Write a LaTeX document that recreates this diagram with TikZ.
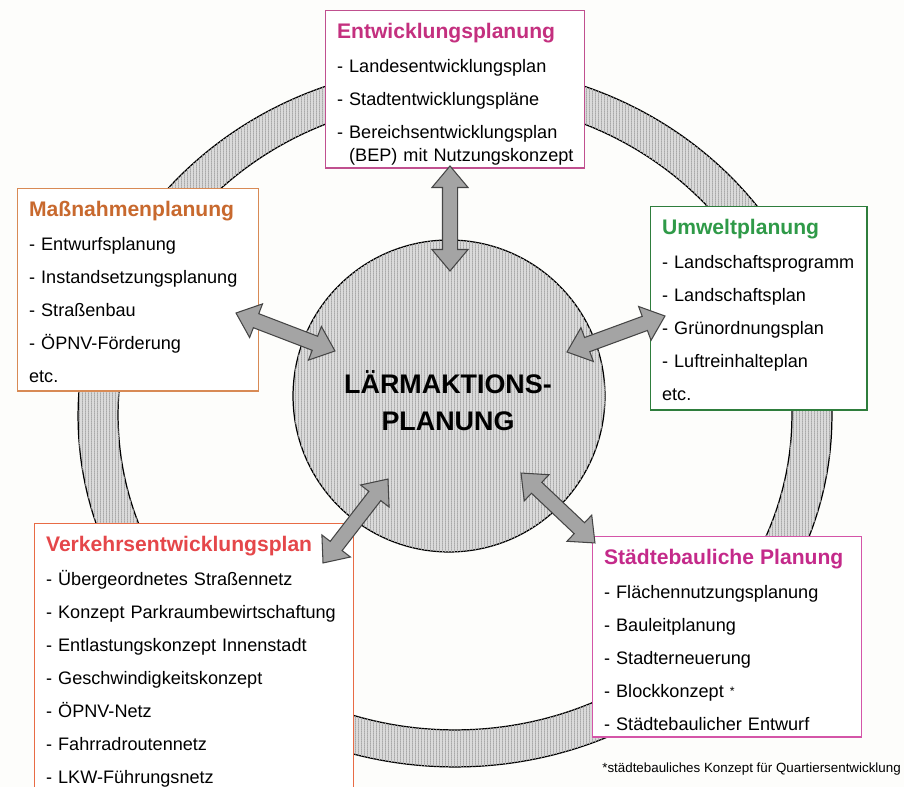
\documentclass[tikz,border=0pt]{standalone}
\usepackage{fontspec}
\setmainfont{Liberation Sans}
\usetikzlibrary{shapes.arrows,calc,patterns}

\definecolor{bgcol}{HTML}{FDFDFB}
\definecolor{hatchgray}{HTML}{DADADA}
\definecolor{hatchline}{HTML}{A8A8A8}
\definecolor{arrowgray}{HTML}{A4A4A4}
\definecolor{arrowline}{HTML}{454545}
\definecolor{entwcol}{HTML}{C4307F}
\definecolor{entwline}{HTML}{C0508F}
\definecolor{massncol}{HTML}{C8692E}
\definecolor{massnline}{HTML}{D88A55}
\definecolor{umweltcol}{HTML}{2F9A48}
\definecolor{umweltline}{HTML}{2E7D3C}
\definecolor{verkcol}{HTML}{E5474A}
\definecolor{verkline}{HTML}{E86B45}
\definecolor{staedtcol}{HTML}{C42A8A}
\definecolor{staedtline}{HTML}{D455A8}

\pgfdeclarepatternformonly{finelines}{\pgfqpoint{0pt}{0pt}}{\pgfqpoint{1.5pt}{1pt}}{\pgfqpoint{1.5pt}{1pt}}{%
  \pgfpathrectangle{\pgfqpoint{0pt}{0pt}}{\pgfqpoint{0.5pt}{1pt}}\pgfusepath{fill}}

\tikzset{
  planbox/.style={draw=#1, line width=0.8pt, fill=white, anchor=north west, align=left,
    inner xsep=6.5pt, inner ysep=0pt, font=\fontsize{10.3}{18.8}\selectfont},
  hatched/.style={fill=hatchgray, postaction={pattern=finelines, pattern color=hatchline}},
  linkarr/.style={double arrow, draw=arrowline, fill=arrowgray, line width=0.6pt,
    inner xsep=0pt, inner ysep=0.14cm, minimum width=0.7cm,
    double arrow head extend=0.21cm, double arrow tip angle=80},
}

\newcommand\boxtitle[2]{\rule{0pt}{15.6pt}{\color{#1}\fontsize{12}{18.8}\selectfont\bfseries #2}}
\newcommand\linkarrow[3]{%
  \path let \p1=(#2), \p2=(#3) in
    node[linkarr, minimum height={veclen(\x2-\x1,\y2-\y1)}, rotate={atan2(\y2-\y1,\x2-\x1)}]
      (#1) at ($(#2)!0.5!(#3)$) {};}

\begin{document}
\begin{tikzpicture}[x=0.02cm, y=-0.02cm]

	\clip (0,0) rectangle (904,787);
	\fill[bgcol] (0,0) rectangle (904,787);

	\path[hatched, draw, line width=0.7pt, even odd rule]
		(455,416) ellipse [x radius=7.54cm, y radius=7.02cm]
		(455,415) ellipse [x radius=6.74cm, y radius=6.30cm];

	\node[circle, draw, line width=0.7pt, hatched, minimum size=6.24cm, inner sep=0pt] (laerm) at (449,396) {};
	\node[font=\fontsize{15.3}{21}\selectfont\bfseries, align=center] (laermtext) at (448,401) {LÄRMAKTIONS-\\PLANUNG};

	\node[planbox=entwline, text width=134.4pt, text depth=74pt] (entw) at (325,10) {\boxtitle{entwcol}{Entwicklungsplanung}\\[0.8pt]
		- Landesentwicklungsplan\\
		- Stadtentwicklungspläne\\
		- Bereichsentwicklungsplan\\[-6pt]\hphantom{- }(BEP)~mit~Nutzungskonzept};

	\node[planbox=massnline, text width=124.2pt, text depth=99.5pt] (massn) at (17,188) {\boxtitle{massncol}{Maßnahmenplanung}\\[0.8pt]
		- Entwurfsplanung\\
		- Instandsetzungsplanung\\
		- Straßenbau\\
		- ÖPNV-Förderung\\
		etc.};

	\node[planbox=umweltline, text width=110pt, text depth=100pt] (umwelt) at (650,206) {\boxtitle{umweltcol}{Umweltplanung}\\[0.8pt]
		- Landschaftsprogramm\\
		- Landschaftsplan\\
		- Grünordnungsplan\\
		- Luftreinhalteplan\\
		etc.};

	\node[planbox=verkline, text width=168.4pt, text depth=146pt] (verk) at (34,523) {\boxtitle{verkcol}{Verkehrsentwicklungsplan}\\[0.8pt]
		- Übergeordnetes Straßennetz\\
		- Konzept Parkraumbewirtschaftung\\
		- Entlastungskonzept Innenstadt\\
		- Geschwindigkeitskonzept\\
		- ÖPNV-Netz\\
		- Fahrradroutennetz\\
		- LKW-Führungsnetz};

	\node[planbox=staedtline, text width=140.1pt, text depth=98.4pt] (staedt) at (592,536) {\boxtitle{staedtcol}{Städtebauliche Planung}\\[0.8pt]
		- Flächennutzungsplanung\\
		- Bauleitplanung\\
		- Stadterneuerung\\
		- Blockkonzept {\fontsize{7}{7}\selectfont\raisebox{1.5pt}{*}}\\
		- Städtebaulicher Entwurf};

	\node[anchor=base west, font=\fontsize{7.6}{9}\selectfont, inner sep=0pt] (fussnote) at (602,772) {*städtebauliches Konzept für Quartiersentwicklung};

	\coordinate (entw-end) at (450,166);
	\coordinate (laerm-n) at (450,271);
	\coordinate (massn-end) at (236,313);
	\coordinate (laerm-w) at (335,351);
	\coordinate (laerm-e) at (567,352);
	\coordinate (umwelt-end) at (665,316);
	\coordinate (verk-end) at (323,563);
	\coordinate (laerm-sw) at (388,479);
	\coordinate (laerm-se) at (521,473);
	\coordinate (staedt-end) at (595,543);

	\linkarrow{a-entw}{entw-end}{laerm-n}
	\linkarrow{a-massn}{massn-end}{laerm-w}
	\linkarrow{a-umwelt}{laerm-e}{umwelt-end}
	\linkarrow{a-verk}{verk-end}{laerm-sw}
	\linkarrow{a-staedt}{laerm-se}{staedt-end}

\end{tikzpicture}
\end{document}
